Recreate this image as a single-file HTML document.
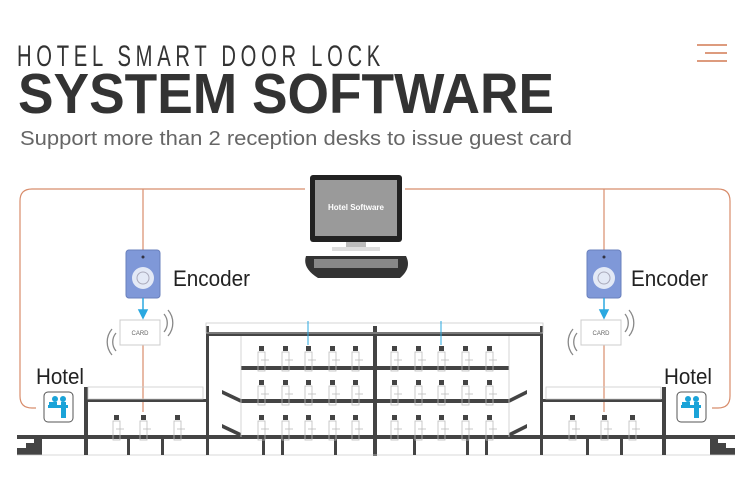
<!DOCTYPE html>
<html><head><meta charset="utf-8"><style>
body{margin:0;background:#fff;}
svg{display:block;font-family:"Liberation Sans",sans-serif;}
</style></head><body>
<svg width="750" height="483" viewBox="0 0 750 483" xmlns="http://www.w3.org/2000/svg">
<defs>
<g id="door"><rect x="-2" y="0" width="5" height="5" fill="#444"/><rect x="-3" y="6" width="7" height="19" fill="none" stroke="#bbb" stroke-width="0.8"/><line x1="0" y1="14" x2="8" y2="14" stroke="#bbb" stroke-width="0.8"/></g>
<g id="enc"><rect x="-17" y="0" width="34" height="48" rx="3" fill="#7f98d8" stroke="#6a80bd"/><circle cx="0" cy="7" r="1.5" fill="#334"/><circle cx="0" cy="28" r="11" fill="#e3e9f6"/><circle cx="0" cy="28" r="6" fill="none" stroke="#aab" stroke-width="1"/></g>
<g id="card"><rect x="-20" y="0" width="40" height="25" fill="#fff" stroke="#ccc"/><text x="0" y="15" font-size="6" text-anchor="middle" fill="#666">CARD</text>
<path d="M24,-6 a14,14 0 0 1 0,18 M28,-10 a20,20 0 0 1 0,26" fill="none" stroke="#888" stroke-width="1.3"/>
<path d="M-24,31 a14,14 0 0 1 0,-18 M-28,35 a20,20 0 0 1 0,-26" fill="none" stroke="#888" stroke-width="1.3"/></g>
<g id="icon"><rect x="0" y="0" width="29" height="30" rx="4" fill="#fff" stroke="#555"/><rect x="4" y="13" width="20" height="3" fill="#1aa3d8"/><circle cx="11" cy="7" r="3" fill="#1aa3d8"/><circle cx="19" cy="7" r="3" fill="#1aa3d8"/><rect x="5" y="10" width="8" height="6" fill="#1aa3d8"/><rect x="17" y="10" width="5" height="16" fill="#1aa3d8"/></g>
</defs>
<text x="17" y="66" font-size="30" letter-spacing="7" fill="#333" textLength="368" lengthAdjust="spacingAndGlyphs">HOTEL SMART DOOR LOCK</text>
<text x="18" y="113" font-size="57" font-weight="bold" fill="#333" textLength="536" lengthAdjust="spacingAndGlyphs">SYSTEM SOFTWARE</text>
<text x="20" y="145" font-size="20" fill="#666" textLength="552" lengthAdjust="spacingAndGlyphs">Support more than 2 reception desks to issue guest card</text>
<g stroke="#d88d6c" stroke-width="1.8"><line x1="697" y1="45" x2="727" y2="45"/><line x1="705" y1="53" x2="727" y2="53"/><line x1="697" y1="61" x2="727" y2="61"/></g>
<!-- orange connectors -->
<g fill="none" stroke="#d88d6c" stroke-width="1.2">
<path d="M305,189 H32 Q20,189 20,201 V396 Q20,408 32,408 H36"/>
<path d="M405,189 H718 Q730,189 730,201 V396 Q730,408 718,408 H712"/>
<line x1="143" y1="189" x2="143" y2="250"/><line x1="604" y1="189" x2="604" y2="250"/>
<line x1="143" y1="345" x2="143" y2="412"/><line x1="604" y1="345" x2="604" y2="412"/>
</g>
<!-- computer -->
<rect x="310" y="175" width="92" height="67" rx="3" fill="#222"/>
<rect x="315" y="180" width="82" height="56" fill="#9a9a9a"/>
<text x="356" y="210" font-size="8" font-weight="bold" fill="#fff" text-anchor="middle">Hotel Software</text>
<rect x="346" y="242" width="20" height="6" fill="#bbb"/><rect x="332" y="247" width="48" height="4" fill="#ddd"/>
<path d="M306,256 H406 Q412,268 400,278 H318 Q302,268 306,256 Z" fill="#333"/>
<rect x="314" y="259" width="84" height="9" fill="#888"/>
<!-- encoders -->
<use href="#enc" x="143" y="250"/><use href="#enc" x="604" y="250"/>
<g stroke="#2aa8e0" stroke-width="1.5" fill="#2aa8e0"><line x1="143" y1="298" x2="143" y2="312"/><path d="M139,310 L147,310 L143,318Z"/><line x1="604" y1="298" x2="604" y2="312"/><path d="M600,310 L608,310 L604,318Z"/></g>
<text x="173" y="286" font-size="22" fill="#222" textLength="77" lengthAdjust="spacingAndGlyphs">Encoder</text>
<text x="631" y="286" font-size="22" fill="#222" textLength="77" lengthAdjust="spacingAndGlyphs">Encoder</text>
<use href="#card" x="140" y="320"/><use href="#card" x="601" y="320"/>
<text x="36" y="384" font-size="22" fill="#222" textLength="48" lengthAdjust="spacingAndGlyphs">Hotel</text>
<text x="664" y="384" font-size="22" fill="#222" textLength="48" lengthAdjust="spacingAndGlyphs">Hotel</text>
<use href="#icon" x="44" y="392"/><use href="#icon" x="677" y="392"/>
<!-- building -->
<g fill="#444">
<rect x="17" y="435" width="718" height="4"/>
<path d="M17,455 V448 H26 V443 H34 V437 H42 V455Z"/>
<path d="M735,455 V448 H726 V443 H718 V437 H710 V455Z"/>
<rect x="206" y="332" width="337" height="4"/>
<rect x="206" y="326" width="3" height="111"/><rect x="540" y="326" width="3" height="111"/>
<rect x="373" y="326" width="4" height="130"/>
<rect x="241" y="366" width="268" height="4"/>
<rect x="241" y="399" width="268" height="4"/>
<path d="M222,390 L241,399 L241,403 L222,394Z"/><path d="M527,390 L509,399 L509,403 L527,394Z"/>
<path d="M222,424 L241,433 L241,437 L222,428Z"/><path d="M527,424 L509,433 L509,437 L527,428Z"/>
<rect x="84" y="387" width="4" height="50"/><rect x="84" y="399" width="124" height="3"/>
<rect x="662" y="387" width="4" height="50"/><rect x="543" y="399" width="121" height="3"/>
</g>
<g fill="none" stroke="#ccc" stroke-width="0.8">
<rect x="206" y="323" width="337" height="10"/>
<rect x="88" y="387" width="115" height="12"/><rect x="546" y="387" width="115" height="12"/>
<line x1="241" y1="336" x2="241" y2="437"/><line x1="509" y1="336" x2="509" y2="437"/>
<line x1="17" y1="455" x2="735" y2="455"/>
</g>
<g fill="#444">
<rect x="84" y="437" width="4" height="18"/><rect x="127" y="437" width="3" height="18"/><rect x="161" y="437" width="3" height="18"/>
<rect x="262" y="437" width="3" height="18"/><rect x="281" y="437" width="3" height="18"/><rect x="334" y="437" width="3" height="18"/>
<rect x="413" y="437" width="3" height="18"/><rect x="466" y="437" width="3" height="18"/><rect x="485" y="437" width="3" height="18"/>
<rect x="586" y="437" width="3" height="18"/><rect x="620" y="437" width="3" height="18"/><rect x="662" y="437" width="4" height="18"/>
<rect x="206" y="437" width="3" height="18"/><rect x="540" y="437" width="3" height="18"/>
</g>
<g stroke="#2aa8e0" stroke-width="1"><line x1="308" y1="321" x2="308" y2="345"/><line x1="441" y1="321" x2="441" y2="345"/></g>
<g>
<use href="#door" x="261" y="346"/><use href="#door" x="285" y="346"/><use href="#door" x="308" y="346"/><use href="#door" x="332" y="346"/><use href="#door" x="355" y="346"/>
<use href="#door" x="394" y="346"/><use href="#door" x="418" y="346"/><use href="#door" x="441" y="346"/><use href="#door" x="465" y="346"/><use href="#door" x="489" y="346"/>
<use href="#door" x="261" y="380"/><use href="#door" x="285" y="380"/><use href="#door" x="308" y="380"/><use href="#door" x="332" y="380"/><use href="#door" x="355" y="380"/>
<use href="#door" x="394" y="380"/><use href="#door" x="418" y="380"/><use href="#door" x="441" y="380"/><use href="#door" x="465" y="380"/><use href="#door" x="489" y="380"/>
<use href="#door" x="261" y="415"/><use href="#door" x="285" y="415"/><use href="#door" x="308" y="415"/><use href="#door" x="332" y="415"/><use href="#door" x="355" y="415"/>
<use href="#door" x="394" y="415"/><use href="#door" x="418" y="415"/><use href="#door" x="441" y="415"/><use href="#door" x="465" y="415"/><use href="#door" x="489" y="415"/>
<use href="#door" x="116" y="415"/><use href="#door" x="143" y="415"/><use href="#door" x="177" y="415"/>
<use href="#door" x="572" y="415"/><use href="#door" x="604" y="415"/><use href="#door" x="632" y="415"/>
</g>
</svg>
</body></html>
